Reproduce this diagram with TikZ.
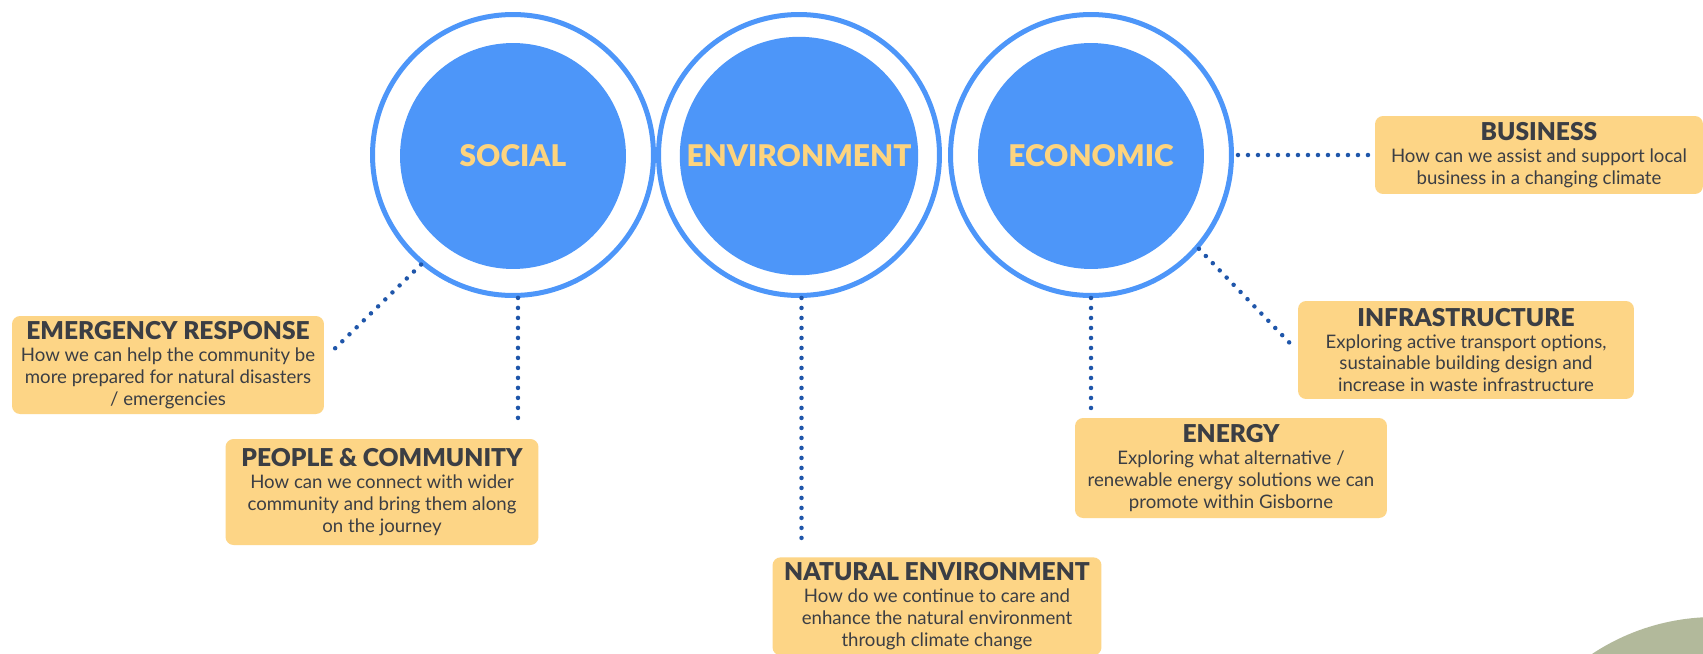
\documentclass[tikz,border=0pt]{standalone}
\usepackage{fontspec}
\setmainfont{Lato}
\newfontfamily\headfont{Lato Black}
\definecolor{ringblue}{HTML}{4D96F9}
\definecolor{capyellow}{HTML}{FDD47E}
\definecolor{boxyellow}{HTML}{FDD586}
\definecolor{textgrey}{HTML}{3B3E44}
\definecolor{dotblue}{HTML}{1F56AA}
\definecolor{sage}{HTML}{B2B99B}
\newcommand{\boxhead}[1]{{\fontsize{14}{16}\selectfont\headfont #1}\\}

\begin{document}
\begin{tikzpicture}[
    x=0.02cm, y=-0.02cm,
    ring/.style={circle, draw=ringblue, line width=0.1cm, minimum size=5.62cm},
    core/.style={circle, fill=ringblue, minimum size=4.52cm, text=capyellow, font=\fontsize{17}{20}\selectfont\headfont},
    topic/.style={rectangle, rounded corners=0.16cm, fill=boxyellow, text=textgrey, align=center, inner sep=0.1cm, font=\fontsize{10.6}{12.5}\selectfont},
    link/.style={dotblue, line width=0.09cm, line cap=round, dash pattern=on 0pt off 0.2cm}
]
\clip (0,0) rectangle (1703,653);
\fill[white] (0,0) rectangle (1703,653);
\fill[sage] (1715,840) circle[radius=223];

% Pillars
\node (Social) at (513,155) [ring] {};
\node (SocialCore) at (513,156) [core] {SOCIAL};
\node (Environment) at (799,155) [ring] {};
\node (EnvironmentCore) at (799,156) [core] {ENVIRONMENT};
\node (Economic) at (1091,155) [ring] {};
\node (EconomicCore) at (1091,156) [core] {ECONOMIC};

% Social topics
\node (Emergency) at (168,365) [topic, minimum width=6.24cm, minimum height=1.96cm] {\boxhead{EMERGENCY RESPONSE}How we can help the community be\\more prepared for natural disasters\\/ emergencies};
\node (People) at (382,492) [topic, minimum width=6.26cm, minimum height=2.12cm] {\boxhead{PEOPLE \& COMMUNITY}How can we connect with wider\\community and bring them along\\on the journey};
\draw[link] (Social.-130) -- ([shift={(8,-14)}]Emergency.east);
\draw[link, shorten >=0.28cm] (Social.-88) -- (Social.-88 |- People.north);

% Environment topic
\node (Natural) at (937,557) [topic, anchor=north, minimum width=6.58cm, minimum height=1.96cm] {\boxhead{NATURAL ENVIRONMENT}How do we continue to care and\\enhance the natural environment\\through climate change};
\draw[link, shorten >=0.28cm] (Environment.-89) -- (Environment.-89 |- Natural.north);

% Economic topics
\node (Business) at (1539,155) [topic, minimum width=6.56cm, minimum height=1.56cm] {\boxhead{BUSINESS}How can we assist and support local\\business in a changing climate};
\node (Infrastructure) at (1466,350) [topic, minimum width=6.72cm, minimum height=1.96cm] {\boxhead{INFRASTRUCTURE}Exploring active transport options,\\sustainable building design and\\increase in waste infrastructure};
\node (Energy) at (1231,468) [topic, minimum width=6.24cm, minimum height=2cm] {\boxhead{ENERGY}Exploring what alternative /\\renewable energy solutions we can\\promote within Gisborne};
\draw[link, shorten <=0.08cm, shorten >=0.08cm] (Economic.east) -- (Business.west);
\draw[link] (Economic.-41) -- ([shift={(-6,-5)}]Infrastructure.west);
\draw[link, shorten >=0.06cm] (Economic.south) -- (Economic.south |- Energy.north);
\end{tikzpicture}
\end{document}
